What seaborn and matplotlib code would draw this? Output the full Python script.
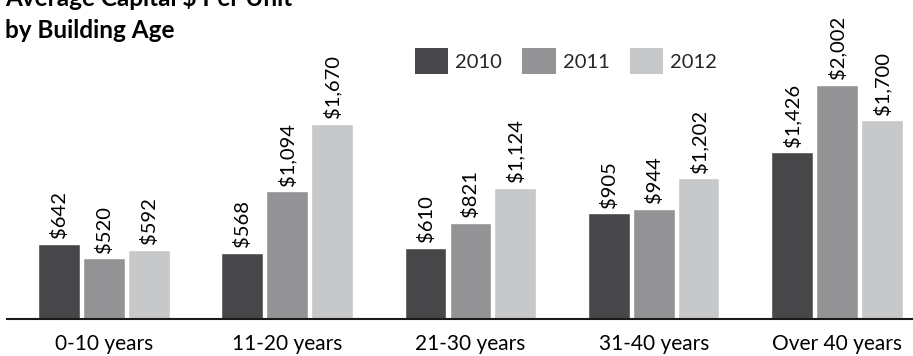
import matplotlib
matplotlib.use("Agg")
import matplotlib.pyplot as plt
import seaborn as sns
import pandas as pd
from matplotlib.patches import Patch

# Average capital spend per unit, grouped by building age
age_groups = ["0-10 years", "11-20 years", "21-30 years", "31-40 years", "Over 40 years"]
years = ["2010", "2011", "2012"]
values_2010 = [642, 568, 610, 905, 1426]
values_2011 = [520, 1094, 821, 944, 2002]
values_2012 = [592, 1670, 1124, 1202, 1700]
colors = ["#474749", "#939396", "#c7c8ca"]

rows = []
for yr, vals in zip(years, [values_2010, values_2011, values_2012]):
    for grp, v in zip(age_groups, vals):
        rows.append({"age": grp, "year": yr, "value": v})
df = pd.DataFrame(rows)

sns.set_theme(style="white")
plt.rcParams["font.family"] = ["Lato", "DejaVu Sans"]

W, H = 913, 356
fig = plt.figure(figsize=(W / 100, H / 100), dpi=100)
ax = fig.add_axes([7 / W, (H - 319) / H, 906 / W, 319 / H])

sns.barplot(data=df, x="age", y="value", hue="year", order=age_groups,
            hue_order=years, palette=colors, width=0.735, gap=0.07,
            saturation=1, ax=ax, legend=False)

ax.set_xlim(-0.529, 4.415)
ax.set_ylim(0, 2729)
ax.set_xlabel("")
ax.set_ylabel("")
ax.set_yticks([])
for side in ["top", "right", "left"]:
    ax.spines[side].set_visible(False)
ax.spines["bottom"].set_color("#1a1a1a")
ax.spines["bottom"].set_linewidth(1.5)
ax.tick_params(axis="x", length=0, pad=11, labelsize=15, labelcolor="black")

for container in ax.containers:
    ax.bar_label(container, labels=[f"${v:,.0f}" for v in container.datavalues],
                 rotation=90, padding=4, fontsize=14.5, color="black")

handles = [Patch(facecolor=c, edgecolor="none") for c in colors]
fig.legend(handles, years, loc="center left", bbox_to_anchor=(407 / W, 1 - 61 / H),
           ncol=3, frameon=False, fontsize=14.5, handlelength=1.65, handleheight=1.65,
           handletextpad=0.35, columnspacing=1.0, borderaxespad=0)

fig.text(5 / W, 1 - 38 / H, "Average Capital $ Per Unit\nby Building Age",
         fontsize=17.5, fontweight="bold", ha="left", va="baseline",
         linespacing=1.45, color="black")

fig.savefig("out.png", dpi=100)
